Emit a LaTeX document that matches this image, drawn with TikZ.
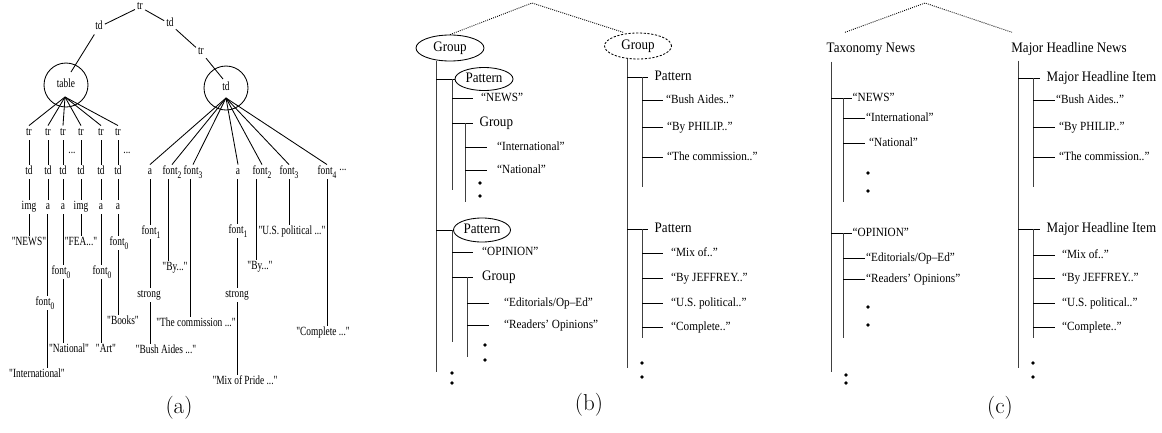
\documentclass[tikz,border=0pt]{standalone}
\usepackage{fontspec}
\usetikzlibrary{shapes.geometric}
\newfontfamily\afont[FakeStretch=0.75,Ligatures=TeXOff]{Liberation Serif}
\newfontfamily\bfont[FakeStretch=0.9]{Liberation Serif}
\newcommand\sbs[1]{\raisebox{-3.5pt}{\fontsize{10}{10}\selectfont #1}}
\tikzset{
  ln/.style={line width=0.85pt},
  vl/.style={line width=0.9pt, black!75},
  an/.style={font={\afont\fontsize{12.5}{13}\selectfont}, inner sep=2pt, text height=8pt, text depth=2.5pt},
  bg/.style={font={\bfont\fontsize{14.5}{15}\selectfont}, anchor=west, inner ysep=2pt, inner xsep=#1, text height=10pt, text depth=3pt},
  bg/.default=6pt,
  bl/.style={font={\bfont\fontsize{12.5}{13}\selectfont}, anchor=west, inner ysep=2pt, inner xsep=#1, text height=8.5pt, text depth=2.5pt},
  bl/.default=8pt,
  el/.style={ellipse, draw, line width=0.85pt, inner sep=0pt, font={\bfont\fontsize{14.5}{15}\selectfont}, text height=10pt, text depth=3pt},
  dot/.style={circle, fill, inner sep=0pt, minimum size=3.6pt},
  dl/.style={dash pattern=on 0.9pt off 1.2pt, line width=0.9pt},
  captxt/.style={font=\fontsize{23}{23}\selectfont},
}
\begin{document}
\begin{tikzpicture}[x=1pt,y=-1pt]
\useasboundingbox (0,0) rectangle (1162,432);
% ================= (a) =================
\node[an] (r) at (140,7) {tr};
\node[an] (tdl) at (99,27) {td};
\node[an] (tdr) at (170,24) {td};
\node[an] (trr) at (201,52) {tr};
\node[an, circle, draw, line width=0.85pt, minimum size=44pt, inner sep=0pt] (tbl) at (66,85) {table};
\node[an, circle, draw, line width=0.85pt, minimum size=44pt, inner sep=0pt] (tdc) at (226,88) {td};
\draw[ln] (r) -- (tdl);
\draw[ln] (r) -- (tdr);
\draw[ln] (tdr) -- (trr);
\draw[ln] (tdl) -- ([shift={(5,-13)}]tbl.center);
\draw[ln] (trr) -- ([shift={(-3,-9)}]tdc.center);
\coordinate (th) at ([shift={(-1,12)}]tbl.center);
\coordinate (dh) at ([shift={(0,10)}]tdc.center);
\foreach \i/\x/\lab in {1/29/img,2/48/a,3/63/a,4/81/img,5/101/a,6/118/a}{
  \node[an] (t\i) at (\x,133) {tr};
  \node[an] (d\i) at (\x,172) {td};
  \node[an] (e\i) at (\x,207) {\lab};
  \draw[ln] (th) -- (t\i.north);
  \draw[ln] (t\i) -- (d\i);
  \draw[ln] (d\i) -- (e\i);
}
\node[an, anchor=base] (dt1) at (72,153) {...};
\node[an, anchor=base] (dt2) at (127,153) {...};
% column continuations
\node[an] (n1) at (29,243) {"NEWS"};
\draw[ln] (e1) -- (n1);
\node[an] (f2) at (45,303) {font\sbs{0}};
\draw[ln] ([xshift=-1pt]e2.south) -- ([xshift=-1pt]e2.south |- f2.north);
\node[an] (i2) at (37,375) {"International"};
\draw[ln] ([xshift=2pt]f2.south) -- ([xshift=2pt]f2.south |- i2.north);
\node[an] (f3) at (61,272) {font\sbs{0}};
\draw[ln] (e3.south) -- (e3.south |- f3.north);
\node[an] (na) at (69,350) {"National"};
\draw[ln] ([xshift=2pt]f3.south) -- ([xshift=2pt]f3.south |- na.north);
\node[an] (fe) at (81,243) {"FEA..."};
\draw[ln] (e4) -- (fe);
\node[an] (f5) at (102,272) {font\sbs{0}};
\draw[ln] (e5.south) -- (e5.south |- f5.north);
\node[an] (ar) at (106,350) {"Art"};
\draw[ln] ([xshift=-1pt]f5.south) -- ([xshift=-1pt]f5.south |- ar.north);
\node[an] (f6) at (119,243) {font\sbs{0}};
\draw[ln] (e6.south) -- (e6.south |- f6.north);
\node[an] (bk) at (123,322) {"Books"};
\draw[ln] ([xshift=-1pt]f6.south) -- ([xshift=-1pt]f6.south |- bk.north);
% right subtree
\node[an] (ra1) at (150,172) {a};
\node[an] (rf2) at (172,172) {font\sbs{2}};
\node[an] (rf3) at (193,172) {font\sbs{3}};
\node[an] (ra2) at (238,172) {a};
\node[an] (rg2) at (262,172) {font\sbs{2}};
\node[an] (rg3) at (289,172) {font\sbs{3}};
\node[an] (rg4) at (327,172) {font\sbs{4}};
\node[an, anchor=base] (rdots) at (343,170) {...};
\foreach \n in {ra1,rf2,rf3,ra2,rg2,rg3,rg4}{ \draw[ln] (dh) -- (\n.north); }
\node[an] (rb1) at (151,232) {font\sbs{1}};
\draw[ln] (ra1.south) -- (ra1.south |- rb1.north);
\node[an] (rs1) at (149,295) {strong};
\draw[ln] ([xshift=-1pt]rb1.south) -- ([xshift=-1pt]rb1.south |- rs1.north);
\node[an] (bu) at (166,351) {"Bush Aides ..."};
\draw[ln] ([xshift=1pt]rs1.south) -- ([xshift=1pt]rs1.south |- bu.north);
\node[an] (by1) at (175,268) {"By..."};
\draw[ln] ([xshift=-4pt]rf2.south) -- ([xshift=-4pt]rf2.south |- by1.north);
\node[an] (tc) at (196,324) {"The commission ..."};
\draw[ln] ([xshift=-3pt]rf3.south) -- ([xshift=-3pt]rf3.south |- tc.north);
\node[an] (rb2) at (238,231) {font\sbs{1}};
\draw[ln] ([xshift=-1pt]ra2.south) -- ([xshift=-1pt]ra2.south |- rb2.north);
\node[an] (rs2) at (237,295) {strong};
\draw[ln] (rs2.north |- rb2.south) -- (rs2.north);
\node[an] (mx) at (245,382) {"Mix of Pride ..."};
\draw[ln] (rs2.south) -- (rs2.south |- mx.north);
\node[an] (by2) at (260,267) {"By..."};
\draw[ln] ([xshift=-6pt]rg2.south) -- ([xshift=-6pt]rg2.south |- by2.north);
\node[an] (us) at (292,232) {"U.S. political ..."};
\draw[ln] (rg3.south) -- (rg3.south |- us.north);
\node[an] (cp) at (323,333) {"Complete ..."};
\draw[ln] (rg4.south) -- (rg4.south |- cp.north);
\node[captxt] (ca) at (179,408) {(a)};
% ================= (b) =================
\node[el, minimum width=68pt, minimum height=26pt] (gL) at (450,48) {Group};
\node[el, dash pattern=on 2.2pt off 1.6pt, minimum width=67pt, minimum height=26pt] (gR) at (638,46) {Group};
\coordinate (bapex) at (532,3);
\draw[dl] (gL.north) -- (bapex) -- ([xshift=-14pt]gR.north);
% left tree
\coordinate (bLb) at (436,372);
\draw[vl] ([xshift=-14pt]gL.south) -- (bLb);
\node[el, minimum width=58pt, minimum height=23pt] (p1) at (484,79) {Pattern};
\draw[ln] (bLb |- p1.west) -- (p1.west);
\coordinate (p1b) at (452,190);
\draw[vl] (p1b |- p1.west) -- (p1b);
\node[bl=8pt] (bnw) at (473,98) {“NEWS”};
\draw[ln] (p1b |- bnw.west) -- (bnw.west);
\node[bg=6.5pt] (bg1) at (473,123) {Group};
\draw[ln] (p1b |- bg1.west) -- (bg1.west);
\coordinate (g1b) at (465,202);
\draw[vl] (g1b |- bg1.west) -- (g1b);
\node[bl=10pt] (bin) at (487,147) {“International”};
\draw[ln] (g1b |- bin.west) -- (bin.west);
\node[bl=10pt] (bna) at (487,170) {“National”};
\draw[ln] (g1b |- bna.west) -- (bna.west);
\node[dot] (bd1) at (480,183) {};
\node[dot] (bd2) at (480,196) {};
\node[el, minimum width=57pt, minimum height=24pt] (p2) at (482,230) {Pattern};
\draw[ln] (bLb |- p2.west) -- (p2.west);
\coordinate (p2b) at (452,342);
\draw[vl] (p2b |- p2.west) -- (p2b);
\node[bl=9pt] (bop) at (473,252) {“OPINION”};
\draw[ln] (p2b |- bop.west) -- (bop.west);
\node[bg=9pt] (bg2) at (473,277) {Group};
\draw[ln] (p2b |- bg2.west) -- (bg2.west);
\coordinate (g2b) at (467,357);
\draw[vl] (g2b |- bg2.west) -- (g2b);
\node[bl=15pt] (bed) at (489,303) {“Editorials/Op–Ed”};
\draw[ln] (g2b |- bed.west) -- (bed.west);
\node[bl=15pt] (bre) at (489,325) {“Readers’ Opinions”};
\draw[ln] (g2b |- bre.west) -- (bre.west);
\node[dot] (bd3) at (485,345) {};
\node[dot] (bd4) at (485,360) {};
\node[dot] (bd5) at (452,373) {};
\node[dot] (bd6) at (452,383) {};
% right tree
\coordinate (bRb) at (627,368);
\draw[vl] ([xshift=-11pt]gR.south) -- (bRb);
\node[bg=6.5pt] (pr1) at (648,77) {Pattern};
\draw[ln] (bRb |- pr1.west) -- (pr1.west);
\coordinate (pr1b) at (642,187);
\draw[vl] (pr1b |- pr1.west) -- (pr1b);
\node[bl=3pt] (rbu) at (663,100) {“Bush Aides..”};
\node[bl=4pt] (rph) at (663,127) {“By PHILIP..”};
\node[bl=4pt] (rco) at (663,157) {“The commission..”};
\foreach \n in {rbu,rph,rco}{ \draw[ln] (pr1b |- \n.west) -- (\n.west); }
\node[bg=6.5pt] (pr2) at (648,229) {Pattern};
\draw[ln] (bRb |- pr2.west) -- (pr2.west);
\coordinate (pr2b) at (642,338);
\draw[vl] (pr2b |- pr2.west) -- (pr2b);
\node[bl=8pt] (rmi) at (663,253) {“Mix of..”};
\node[bl=8pt] (rje) at (663,278) {“By JEFFREY..”};
\node[bl=8pt] (rus) at (663,303) {“U.S. political..”};
\node[bl=8pt] (rcp) at (663,327) {“Complete..”};
\foreach \n in {rmi,rje,rus,rcp}{ \draw[ln] (pr2b |- \n.west) -- (\n.west); }
\node[dot] (rd1) at (642,363) {};
\node[dot] (rd2) at (642,377) {};
\node[captxt] (cb) at (589,405) {(b)};
% ================= (c) =================
\node[bg, anchor=center] (tx) at (871,49) {Taxonomy News};
\node[bg, anchor=center] (mh) at (1069,49) {Major Headline News};
\coordinate (capex) at (925,3);
\draw[dl] ([shift={(-26,-8)}]tx.north) -- (capex) -- ([shift={(-57,-8)}]mh.north);
% left tree
\coordinate (cLb) at (831,372);
\draw[vl] ([shift={(-40,4)}]tx.south) -- (cLb);
\node[bl=0.5pt] (cnw) at (852,98) {“NEWS”};
\draw[ln] (cLb |- cnw.west) -- (cnw.west);
\coordinate (cn1b) at (843,202);
\draw[vl] (cn1b |- cnw.west) -- (cn1b);
\node[bl=1pt] (cin) at (865,118) {“International”};
\node[bl=4pt] (cna) at (865,143) {“National”};
\foreach \n in {cin,cna}{ \draw[ln] (cn1b |- \n.west) -- (\n.west); }
\node[dot] (cd1) at (868,173) {};
\node[dot] (cd2) at (868,191) {};
\node[bl=0.5pt] (cop) at (852,233) {“OPINION”};
\draw[ln] (cLb |- cop.west) -- (cop.west);
\coordinate (cn2b) at (843,338);
\draw[vl] (cn2b |- cop.west) -- (cn2b);
\node[bl=1pt] (ced) at (865,258) {“Editorials/Op–Ed”};
\node[bl=1pt] (cre) at (865,279) {“Readers’ Opinions”};
\foreach \n in {ced,cre}{ \draw[ln] (cn2b |- \n.west) -- (\n.west); }
\node[dot] (cd3) at (868,307) {};
\node[dot] (cd4) at (868,325) {};
\node[dot] (cd5) at (846,375) {};
\node[dot] (cd6) at (846,383) {};
% right tree
\coordinate (cRb) at (1018,368);
\draw[vl] ([shift={(-51,3)}]mh.south) -- (cRb);
\node[bg=6.5pt] (mi1) at (1040,78) {Major Headline Item};
\draw[ln] (cRb |- mi1.west) -- (mi1.west);
\coordinate (m1b) at (1033,187);
\draw[vl] (m1b |- mi1.west) -- (m1b);
\node[bl=1pt] (cbu) at (1055,100) {“Bush Aides..”};
\node[bl=4pt] (cph) at (1055,127) {“By PHILIP..”};
\node[bl=4pt] (cco) at (1055,157) {“The commission..”};
\foreach \n in {cbu,cph,cco}{ \draw[ln] (m1b |- \n.west) -- (\n.west); }
\node[bg=6.5pt] (mi2) at (1040,229) {Major Headline Item};
\draw[ln] (cRb |- mi2.west) -- (mi2.west);
\coordinate (m2b) at (1033,338);
\draw[vl] (m2b |- mi2.west) -- (m2b);
\node[bl=7pt] (cmi) at (1055,255) {“Mix of..”};
\node[bl=7pt] (cje) at (1055,278) {“By JEFFREY..”};
\node[bl=7pt] (cus) at (1055,303) {“U.S. political..”};
\node[bl=7pt] (ccp) at (1055,327) {“Complete..”};
\foreach \n in {cmi,cje,cus,ccp}{ \draw[ln] (m2b |- \n.west) -- (\n.west); }
\node[dot] (cd7) at (1033,363) {};
\node[dot] (cd8) at (1033,377) {};
\node[captxt] (cc) at (1000,408) {(c)};
\end{tikzpicture}
\end{document}
